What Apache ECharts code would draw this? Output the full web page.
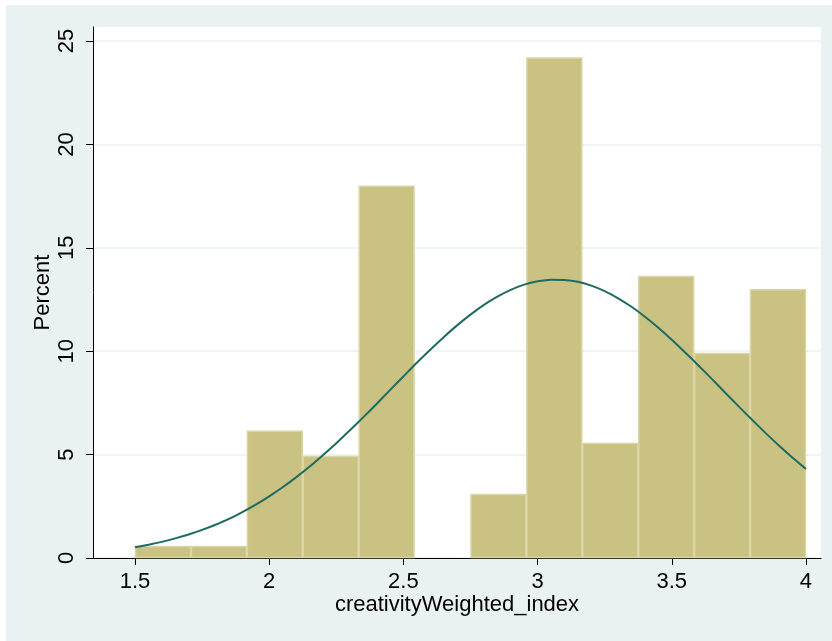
<!DOCTYPE html>
<html><head><meta charset="utf-8">
<script src="https://cdn.jsdelivr.net/npm/echarts@6/dist/echarts.min.js"></script>
<style>html,body{margin:0;padding:0;background:#fff}#c{width:832px;height:641px}</style>
</head><body><div id="c"></div>
<script>
// histogram bins (left edges), width 2.5/12
const binStart = [1.5, 1.7083, 1.9167, 2.125, 2.3333, 2.5417, 2.75, 2.9583, 3.1667, 3.375, 3.5833, 3.7917];
const binWidth = 0.20833;
const percent = [0.58, 0.58, 6.15, 4.93, 18.0, 0, 3.09, 24.2, 5.56, 13.64, 9.91, 13.0];
// normal density overlay
const curveX = [1.5,1.55,1.6,1.65,1.7,1.75,1.8,1.85,1.9,1.95,2.0,2.05,2.1,2.15,2.2,2.25,2.3,2.35,2.4,2.45,2.5,2.55,2.6,2.65,2.7,2.75,2.8,2.85,2.9,2.95,3.0,3.05,3.1,3.15,3.2,3.25,3.3,3.35,3.4,3.45,3.5,3.55,3.6,3.65,3.7,3.75,3.8,3.85,3.9,3.95,4.0];
const curveY = [0.52,0.64,0.78,0.95,1.14,1.36,1.61,1.89,2.22,2.58,2.98,3.42,3.90,4.41,4.97,5.55,6.17,6.80,7.45,8.12,8.78,9.44,10.07,10.68,11.25,11.77,12.24,12.64,12.97,13.22,13.38,13.46,13.45,13.36,13.17,12.91,12.56,12.15,11.67,11.14,10.56,9.94,9.30,8.65,7.98,7.32,6.67,6.04,5.43,4.85,4.31];
const xTicks = [1.5, 2, 2.5, 3, 3.5, 4];
const yTicks = [0, 5, 10, 15, 20, 25];

const chart = echarts.init(document.getElementById('c'), null, {renderer: 'canvas'});
const font = '"Liberation Sans", Arial, Helvetica, sans-serif';
chart.setOption({
  backgroundColor: '#ffffff',
  animation: false,
  graphic: [{type: 'rect', z: -10, shape: {x: 6, y: 5, width: 826, height: 636}, style: {fill: '#EAF1F3'}}],
  grid: {left: 93, top: 27, right: 11, bottom: 83, show: true, backgroundColor: '#ffffff', borderWidth: 0},
  xAxis: {
    type: 'value', min: 1.3435, max: 4.056,
    name: 'creativityWeighted_index', nameLocation: 'middle', nameGap: 36, nameMoveOverlap: false,
    nameTextStyle: {fontFamily: font, fontSize: 22, color: '#000'},
    axisLine: {show: true, lineStyle: {color: '#000', width: 1}},
    axisTick: {show: true, length: 7, lineStyle: {color: '#000'}, customValues: xTicks},
    axisLabel: {fontFamily: font, fontSize: 22, color: '#000', margin: 13, customValues: xTicks, formatter: v => String(v)},
    splitLine: {show: false}
  },
  yAxis: {
    type: 'value', min: 0, max: 25.68, interval: 5,
    name: 'Percent', nameLocation: 'middle', nameGap: 39, nameRotate: 90, nameMoveOverlap: false,
    nameTextStyle: {fontFamily: font, fontSize: 22, color: '#000'},
    axisLine: {show: true, lineStyle: {color: '#000', width: 1}},
    axisTick: {show: true, length: 7, lineStyle: {color: '#000'}, customValues: yTicks},
    axisLabel: {fontFamily: font, fontSize: 22, color: '#000', rotate: 90, margin: 15, customValues: yTicks,
      formatter: v => String(v)},
    splitLine: {show: true, lineStyle: {color: '#EAF1F3', width: 1.5}}
  },
  series: [
    {
      type: 'custom',
      data: binStart.map((s, i) => [s, s + binWidth, percent[i]]),
      renderItem: function (params, api) {
        const p0 = api.coord([api.value(0), api.value(2)]);
        const p1 = api.coord([api.value(1), 0]);
        if (api.value(2) <= 0) return null;
        return {
          type: 'rect',
          shape: {x: p0[0] + 0.5, y: p0[1] + 0.5, width: p1[0] - p0[0] - 1, height: p1[1] - p0[1] - 1},
          style: {fill: '#C9C283', stroke: '#DBD6A6', lineWidth: 1.5}
        };
      },
      z: 2
    },
    {
      type: 'line', data: curveX.map((x, i) => [x, curveY[i]]),
      smooth: 0.2, symbol: 'none',
      lineStyle: {color: '#1F6B62', width: 2}, z: 3
    }
  ]
});
</script></body></html>
